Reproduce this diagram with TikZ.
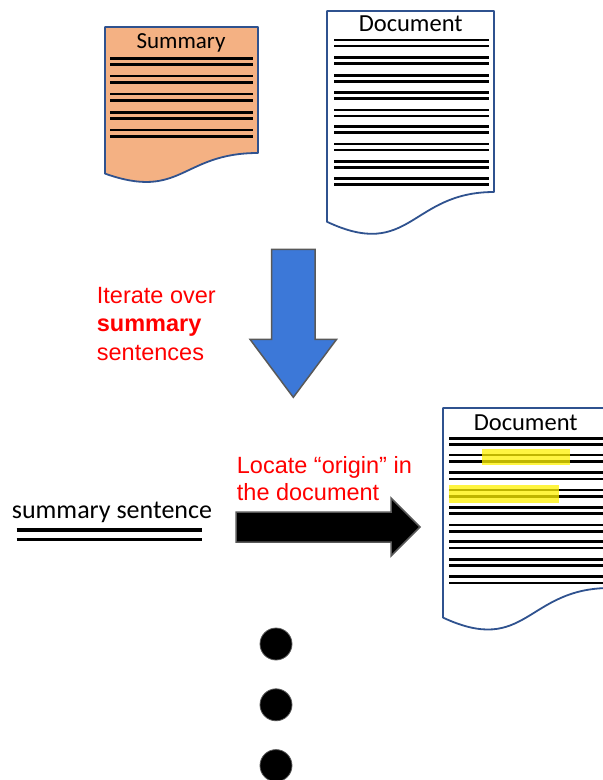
\documentclass[tikz,border=0pt]{standalone}
\usepackage{fontspec}
\setmainfont{Liberation Sans}
\newfontfamily\calibri{Carlito}
\usetikzlibrary{positioning}

\definecolor{docblue}{RGB}{47,82,143}
\definecolor{sumorange}{RGB}{244,177,131}
\definecolor{arrowblue}{RGB}{60,120,216}
\definecolor{rimgray}{RGB}{89,89,89}

\begin{document}
\begin{tikzpicture}[x=1pt, y=-1pt,
		docpage/.style={draw=docblue, line width=1.8pt, line join=round},
		docline/.style={black, line width=2.6pt},
		marker/.style={fill=yellow, opacity=0.75},
		bigarrow/.style={draw=rimgray, line width=1.5pt, line join=miter},
		redtext/.style={text=red, font=\fontsize{23.5}{28.5}\selectfont, align=left, inner sep=0pt},
		dottie/.style={circle, fill=black, draw=rimgray, line width=0.8pt, minimum size=32pt, inner sep=0pt}]
			\useasboundingbox (0,0) rectangle (603,780);
			\clip (0,0) rectangle (603,780);
			% summary page
			\draw[docpage, fill=sumorange] (105,27)--(258,27)--(258,153) .. controls (181.5,153) and (181.5,200.8) .. (105,173.6)--cycle;
			\node[anchor=base, font=\calibri\fontsize{23}{23}\selectfont, inner sep=0pt] (sumtitle) at (181,48.3) {Summary};
			\foreach \y in {58.5,76,94,112.3,130} {
				\draw[docline] (110,\y)--(253,\y);
				\draw[docline] (110,\y+6.2)--(253,\y+6.2);
			}
			% document page
			\draw[docpage, fill=white] (327,11)--(494,11)--(494,192) .. controls (410.5,192) and (410.5,260.9) .. (327,221.8)--cycle;
			\node[anchor=base, font=\calibri\fontsize{24.5}{24.5}\selectfont, inner sep=0pt] (doctitle) at (410.7,31.7) {Document};
			\foreach \y in {40,57.3,75.3,92.7,110,126.7,144,161.7,178.3} {
				\draw[docline] (334,\y)--(489,\y);
				\draw[docline] (334,\y+6)--(489,\y+6);
			}
			% blue arrow
			\draw[bigarrow, fill=arrowblue] (271.6,249.3)--(315,249.3)--(315,339.3)--(336.6,339.3)--(293.3,397.3)--(250,339.3)--(271.6,339.3)--cycle;
			\node[redtext, anchor=base west] (iterlabel) at (96.7,360) {Iterate over\\\textbf{summary}\\sentences};
			% sentence and black arrow
			\node[anchor=base west, font=\calibri\fontsize{26}{26}\selectfont, inner sep=0pt] (sentlabel) at (11.7,518.3) {summary sentence};
			\draw[black, line width=3.4pt] (16.7,530)--(202.3,530);
			\draw[black, line width=3.4pt] (16.7,539.5)--(202.3,539.5);
			\draw[bigarrow, fill=black] (236,512)--(391,512)--(391,498)--(420,527)--(391,556)--(391,542)--(236,542)--cycle;
			\node[redtext, anchor=base west, font=\fontsize{23.5}{26.7}\selectfont] (locatelabel) at (236.7,500) {Locate “origin” in\\the document};
			% located document page
			\draw[docpage, fill=white] (443,408)--(610,408)--(610,588) .. controls (526.5,588) and (526.5,656.4) .. (443,617.6)--cycle;
			\node[anchor=base, font=\calibri\fontsize{24.5}{24.5}\selectfont, inner sep=0pt] (doctitle2) at (525.7,430.7) {Document};
			\foreach \y in {438.3,455,472.7,490,507.3,525,541.7,559.3,576.7} {
				\draw[docline] (449,\y)--(606,\y);
				\draw[docline] (449,\y+6.2)--(606,\y+6.2);
			}
			\fill[marker] (481.7,449) rectangle (570,465);
			\fill[marker] (449,485) rectangle (559.3,502.7);
			% dots
			\node[dottie] (dot1) at (276,644) {};
			\node[dottie, below=28pt of dot1] (dot2) {};
			\node[dottie, below=28pt of dot2] (dot3) {};
		\end{tikzpicture}
\end{document}
